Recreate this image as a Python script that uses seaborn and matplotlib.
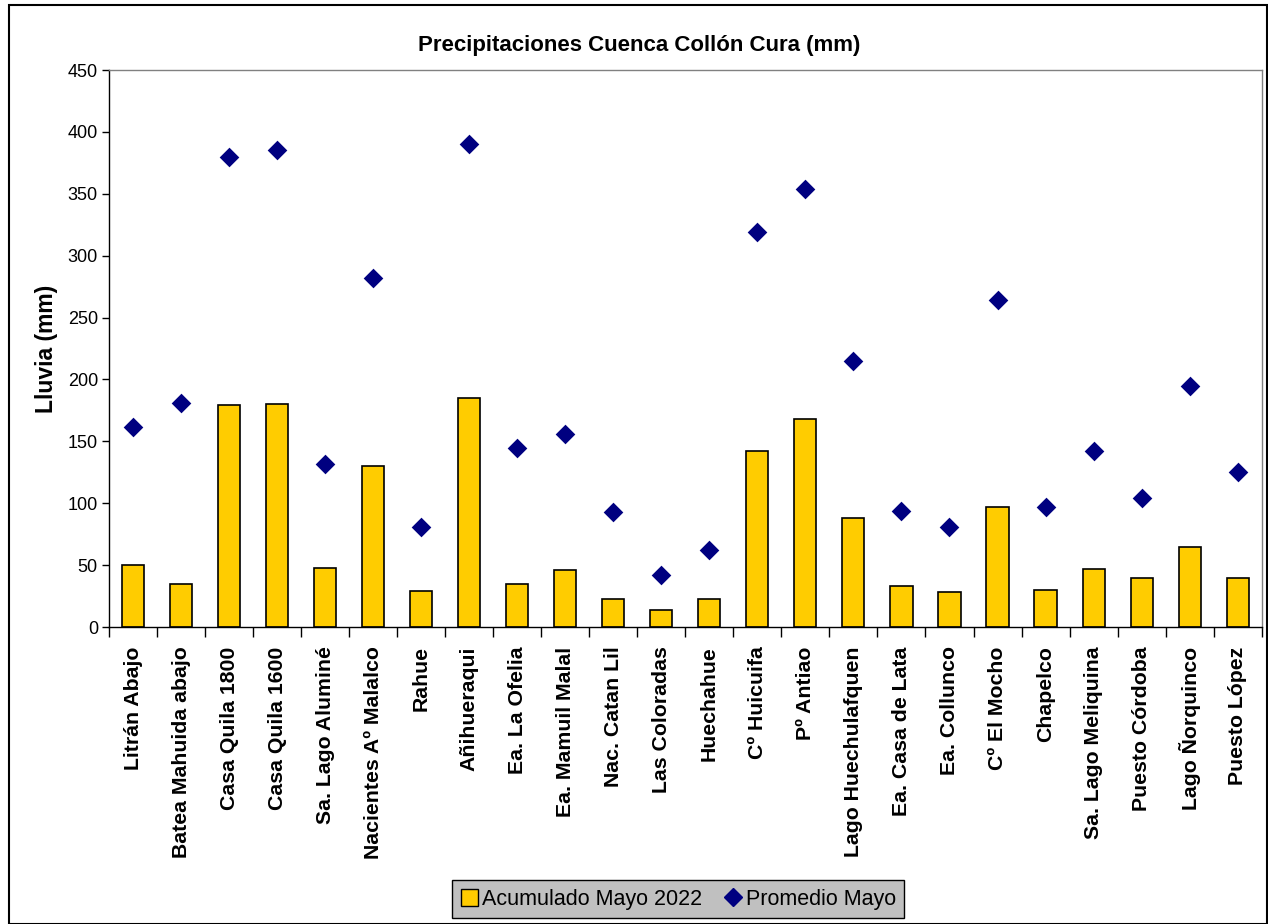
import matplotlib
matplotlib.use("Agg")
import matplotlib.pyplot as plt
import seaborn as sns
from matplotlib.patches import Rectangle, Patch
from matplotlib.lines import Line2D

estaciones = ["Litrán Abajo", "Batea Mahuida abajo", "Casa Quila 1800", "Casa Quila 1600",
              "Sa. Lago Aluminé", "Nacientes Aº Malalco", "Rahue", "Añihueraqui",
              "Ea. La Ofelia", "Ea. Mamuil Malal", "Nac. Catan Lil", "Las Coloradas",
              "Huechahue", "Cº Huicuifa", "Pº Antiao", "Lago Huechulafquen",
              "Ea. Casa de Lata", "Ea. Collunco", "Cº El Mocho", "Chapelco",
              "Sa. Lago Meliquina", "Puesto Córdoba", "Lago Ñorquinco", "Puesto López"]
acumulado = [50, 35, 179, 180, 48, 130, 29, 185, 35, 46, 23, 14,
             23, 142, 168, 88, 33, 28, 97, 30, 47, 40, 65, 40]
promedio = [162, 181, 380, 385, 132, 282, 81, 390, 145, 156, 93, 42,
            62, 319, 354, 215, 94, 81, 264, 97, 142, 104, 195, 125]

sns.set_style("white")
plt.rcParams['font.family'] = ['Liberation Sans', 'DejaVu Sans']
for k in ["text.color", "axes.labelcolor", "xtick.color", "ytick.color"]:
    plt.rcParams[k] = "black"

fig = plt.figure(figsize=(12.68, 9.24), dpi=100)
ax = fig.add_axes([0.086, 0.3214, 0.909, 0.6028])

sns.barplot(x=estaciones, y=acumulado, color="#FFCC00", edgecolor="black",
            linewidth=1.2, width=0.46, saturation=1, ax=ax)
sns.stripplot(x=estaciones, y=promedio, color="#000080", marker="D", size=10,
              jitter=False, ax=ax, zorder=3, legend=False)
if ax.get_legend() is not None:
    ax.get_legend().remove()

ax.set_xlim(-0.5, len(estaciones) - 0.5)
ax.set_ylim(0, 450)
ax.set_yticks(range(0, 451, 50))
ax.tick_params(axis="y", direction="out", length=5, width=1, labelsize=13, left=True, pad=3)
ax.set_xticks(range(len(estaciones)))
ax.set_xticklabels(estaciones, rotation=90, fontweight="bold", fontsize=15.3)
ax.tick_params(axis="x", length=0, pad=14)
ax.set_xticks([i - 0.5 for i in range(len(estaciones) + 1)], minor=True)
ax.tick_params(axis="x", which="minor", direction="out", length=7, width=1, bottom=True)

for s in ["left", "bottom"]:
    ax.spines[s].set_color("black")
    ax.spines[s].set_linewidth(1)
for s in ["top", "right"]:
    ax.spines[s].set_color("#808080")
    ax.spines[s].set_linewidth(1)

ax.set_ylabel("Lluvia (mm)", fontsize=16.5, fontweight="bold", labelpad=7)
ax.set_xlabel("")
fig.text(0.504, 0.951, "Precipitaciones Cuenca Collón Cura (mm)", ha="center", va="center",
         fontsize=16, fontweight="bold")

handles = [Patch(facecolor="#FFCC00", edgecolor="black", linewidth=1),
           Line2D([], [], marker="D", color="#000080", linestyle="none", markersize=9)]
leg = fig.legend(handles, ["Acumulado Mayo 2022", "Promedio Mayo"], loc="lower center",
                 bbox_to_anchor=(0.535, 0.006), ncol=2, fontsize=15.5, frameon=True,
                 fancybox=False, facecolor="#C0C0C0", edgecolor="black", framealpha=1,
                 handlelength=0.8, handleheight=0.8, handletextpad=0.2, columnspacing=1.0,
                 borderpad=0.4, borderaxespad=0)
leg.get_frame().set_linewidth(1)

fig.patches.append(Rectangle((0.007, 0.0), 0.992, 0.995, transform=fig.transFigure,
                             fill=False, edgecolor="black", linewidth=1.5))

fig.savefig("out.png", dpi=100)
